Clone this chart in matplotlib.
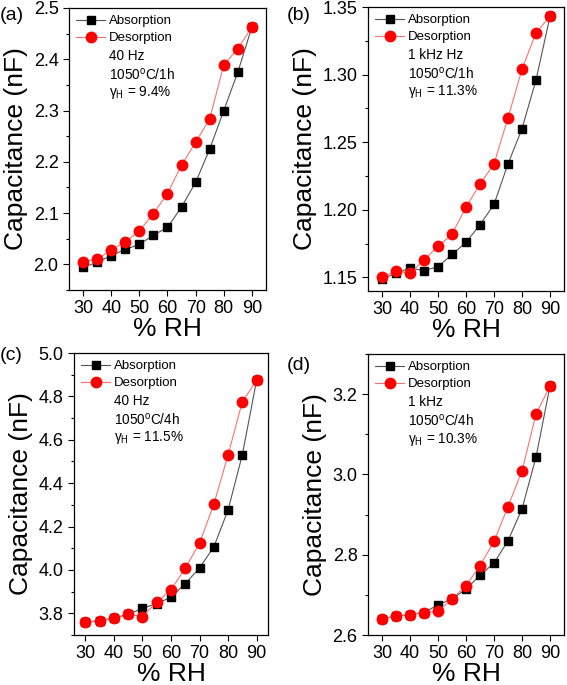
import matplotlib
matplotlib.use("Agg")
import matplotlib.pyplot as plt
from matplotlib.ticker import MultipleLocator, FormatStrFormatter

plt.rcParams['font.family'] = ['Liberation Sans', 'DejaVu Sans']
plt.rcParams['mathtext.fontset'] = 'custom'
plt.rcParams['mathtext.rm'] = 'Liberation Sans'
plt.rcParams['mathtext.it'] = 'Liberation Sans:italic'

rh = [30, 35, 40, 45, 50, 55, 60, 65, 70, 75, 80, 85, 90]

# (a) 40 Hz, 1050C/1h
abs_a = [1.994, 2.004, 2.017, 2.029, 2.039, 2.057, 2.072, 2.112, 2.160, 2.225, 2.300, 2.375, 2.463]
des_a = [2.005, 2.010, 2.028, 2.044, 2.065, 2.099, 2.138, 2.194, 2.238, 2.284, 2.389, 2.421, 2.463]
# (b) 1 kHz, 1050C/1h
abs_b = [1.149, 1.153, 1.157, 1.155, 1.158, 1.167, 1.176, 1.189, 1.204, 1.234, 1.260, 1.296, 1.343]
des_b = [1.150, 1.155, 1.153, 1.163, 1.173, 1.182, 1.202, 1.219, 1.234, 1.268, 1.304, 1.331, 1.343]
# (c) 40 Hz, 1050C/4h
abs_c = [3.759, 3.766, 3.778, 3.795, 3.823, 3.845, 3.874, 3.937, 4.009, 4.106, 4.276, 4.531, 4.874]
des_c = [3.759, 3.766, 3.778, 3.795, 3.785, 3.852, 3.908, 4.009, 4.123, 4.302, 4.530, 4.775, 4.874]
# (d) 1 kHz, 1050C/4h
abs_d = [2.640, 2.647, 2.651, 2.656, 2.675, 2.690, 2.714, 2.749, 2.779, 2.835, 2.914, 3.043, 3.220]
des_d = [2.640, 2.647, 2.651, 2.656, 2.659, 2.690, 2.723, 2.773, 2.833, 2.920, 3.009, 3.150, 3.220]

panel_tags = ['(a)', '(b)', '(c)', '(d)']
freq_labels = ['40 Hz', '1 kHz Hz', '40 Hz', '1 kHz']
anneal_labels = ['1050$^\\mathregular{o}$C/1h', '1050$^\\mathregular{o}$C/1h',
                 '1050$^\\mathregular{o}$C/4h', '1050$^\\mathregular{o}$C/4h']
gamma_labels = ['9.4%', '11.3%', '11.5%', '10.3%']

W, H = 567, 685
fig = plt.figure(figsize=(W / 100, H / 100), dpi=100)

def px_axes(l, t, r, b):
    return fig.add_axes([l / W, 1 - b / H, (r - l) / W, (b - t) / H])

panels = [
    dict(box=(69, 8, 266, 290), ab=abs_a, de=des_a, ylim=(1.95, 2.5), xlim=(25, 95),
         major=0.1, minor=0.05, fmt='%.1f', tag_xy=(0, 15)),
    dict(box=(368, 7, 564, 291), ab=abs_b, de=des_b, ylim=(1.14, 1.35), xlim=(25, 95),
         major=0.05, minor=0.025, fmt='%.2f', tag_xy=(287, 15)),
    dict(box=(74, 353, 268, 635), ab=abs_c, de=des_c, ylim=(3.7, 5.0), xlim=(26, 94),
         major=0.2, minor=0.1, fmt='%.1f', tag_xy=(0, 356)),
    dict(box=(368, 354, 564, 635), ab=abs_d, de=des_d, ylim=(2.6, 3.3), xlim=(25, 95),
         major=0.2, minor=0.1, fmt='%.1f', tag_xy=(287, 365)),
]

for i, p in enumerate(panels):
    ax = px_axes(*p['box'])
    ax.plot(rh, p['ab'], color='#555555', lw=0.8, marker='s', ms=6,
            mfc='black', mec='black', label='Absorption')
    ax.plot(rh, p['de'], color='#ff7070', lw=0.8, marker='o', ms=7.5,
            mfc='#ff0000', mec='#ff0000', label='Desorption')
    ax.set_xlim(*p['xlim'])
    ax.set_ylim(*p['ylim'])
    ax.xaxis.set_major_locator(MultipleLocator(10))
    ax.yaxis.set_major_locator(MultipleLocator(p['major']))
    ax.yaxis.set_minor_locator(MultipleLocator(p['minor']))
    ax.yaxis.set_major_formatter(FormatStrFormatter(p['fmt']))
    ax.tick_params(which='both', direction='out', labelsize=13, width=0.8)
    ax.tick_params(which='major', length=4)
    ax.tick_params(which='minor', length=2.5)
    for s in ax.spines.values():
        s.set_linewidth(0.9)
    ax.set_xlabel('% RH', fontsize=19, labelpad=0)
    ax.set_ylabel('Capacitance (nF)', fontsize=19, labelpad=4)

    ax.legend(loc='upper left', frameon=False, fontsize=9.5, handlelength=2.2,
              handletextpad=0.3, labelspacing=0.35, borderaxespad=0.25,
              borderpad=0.3)

    l, t, r, b = p['box']
    tx = 40 / (r - l)
    for j, txt in enumerate([freq_labels[i], anneal_labels[i],
                             '$\\mathregular{\\gamma_H}$ = ' + gamma_labels[i]]):
        ty = 1 - (48 + 18.5 * j) / (b - t)
        ax.text(tx, ty, txt, transform=ax.transAxes, fontsize=9.8, va='center', ha='left')

    fig.text(p['tag_xy'][0] / W, 1 - p['tag_xy'][1] / H, panel_tags[i],
             fontsize=14, va='center', ha='left')

fig.savefig('out.png', dpi=100)
